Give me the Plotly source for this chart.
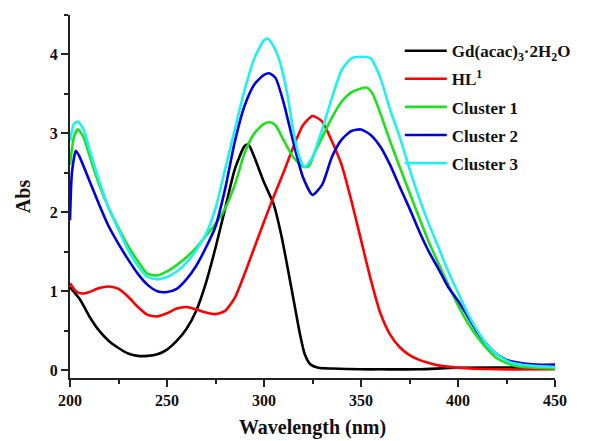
import plotly.graph_objects as go

# ---- data ----
gd_x = [200, 205, 210, 215, 220, 225, 230, 235, 240, 245, 250, 255, 260, 265, 270, 275, 280, 285, 290, 292,
        295, 300, 305, 309, 312, 316, 318.5, 321, 324, 328, 335, 350, 360, 380, 400, 450]
gd_y = [1.05, 0.90, 0.68, 0.50, 0.37, 0.28, 0.21, 0.18, 0.18, 0.20, 0.26, 0.37, 0.52, 0.75, 1.10, 1.55, 2.05, 2.55, 2.84, 2.86,
        2.70, 2.38, 2.10, 1.70, 1.32, 0.79, 0.46, 0.20, 0.07, 0.03, 0.02, 0.01, 0.01, 0.01, 0.03, 0.03]

hl_x = [200, 203, 206, 210, 215, 220, 225, 230, 235, 240, 245, 250, 255, 260, 265, 270, 275, 280, 285, 290,
        295, 300, 305, 310, 315, 320, 325, 330, 335, 340, 345, 350, 355, 360, 365, 370, 375, 380, 385, 390,
        400, 420, 450]
hl_y = [1.10, 1.00, 0.97, 0.99, 1.04, 1.06, 1.03, 0.93, 0.80, 0.70, 0.68, 0.72, 0.78, 0.80, 0.77, 0.73, 0.71, 0.75, 0.92, 1.22,
        1.55, 1.88, 2.20, 2.50, 2.82, 3.10, 3.22, 3.15, 2.90, 2.60, 2.15, 1.65, 1.15, 0.72, 0.45, 0.29, 0.19, 0.13, 0.09, 0.06,
        0.03, 0.01, 0.01]

c1_x = [200, 202, 204, 207, 210, 215, 220, 225, 230, 235, 240, 245, 250, 255, 260, 265, 270, 275, 280, 285,
        290, 295, 300, 303, 306, 310, 315, 320, 323, 326, 330, 335, 340, 345, 350, 353, 356, 360, 365, 370,
        375, 380, 385, 390, 395, 400, 405, 410, 415, 420, 425, 430, 440, 450]
c1_y = [2.60, 2.95, 3.05, 2.95, 2.72, 2.35, 2.05, 1.80, 1.57, 1.38, 1.22, 1.20, 1.25, 1.33, 1.43, 1.55, 1.70, 1.85, 2.05, 2.35,
        2.75, 3.00, 3.12, 3.14, 3.10, 2.92, 2.70, 2.58, 2.58, 2.75, 2.95, 3.20, 3.40, 3.52, 3.57, 3.58, 3.50, 3.25, 2.90, 2.57,
        2.25, 1.93, 1.62, 1.35, 1.08, 0.82, 0.60, 0.42, 0.27, 0.15, 0.09, 0.05, 0.03, 0.02]

c2_x = [200, 201, 203, 205, 210, 215, 220, 225, 230, 235, 240, 245, 250, 255, 260, 265, 270, 275, 280, 285,
        290, 295, 300, 303, 306, 310, 315, 320, 325, 330, 335, 340, 345, 350, 355, 360, 365, 370, 375, 380,
        385, 390, 395, 400, 405, 410, 415, 420, 425, 430, 440, 450]
c2_y = [1.90, 2.50, 2.78, 2.70, 2.40, 2.10, 1.82, 1.60, 1.40, 1.22, 1.08, 1.00, 0.99, 1.03, 1.15, 1.32, 1.55, 1.82, 2.30, 2.90,
        3.35, 3.62, 3.74, 3.76, 3.70, 3.40, 2.90, 2.45, 2.22, 2.35, 2.70, 2.92, 3.03, 3.05, 2.98, 2.83, 2.60, 2.32, 2.05, 1.76,
        1.50, 1.28, 1.05, 0.88, 0.68, 0.48, 0.32, 0.20, 0.13, 0.10, 0.07, 0.07]

c3_x = [200, 202, 204, 207, 210, 215, 220, 225, 230, 235, 240, 245, 250, 255, 260, 265, 270, 275, 280, 285,
        290, 295, 300, 302, 305, 308, 312, 315, 318, 321, 325, 330, 335, 340, 345, 350, 355, 360, 365, 370,
        375, 380, 385, 390, 395, 400, 405, 410, 415, 420, 425, 430, 440, 450]
c3_y = [2.90, 3.12, 3.15, 3.05, 2.80, 2.40, 2.05, 1.78, 1.52, 1.32, 1.18, 1.15, 1.18, 1.25, 1.36, 1.52, 1.72, 2.05, 2.55, 3.05,
        3.55, 3.95, 4.18, 4.20, 4.10, 3.92, 3.50, 3.05, 2.72, 2.57, 2.70, 3.05, 3.45, 3.80, 3.95, 3.97, 3.95, 3.70, 3.30, 2.95,
        2.55, 2.18, 1.85, 1.55, 1.25, 0.98, 0.72, 0.50, 0.32, 0.20, 0.12, 0.08, 0.05, 0.04]

series = [
    ("Gd(acac)<sub>3</sub>·2H<sub>2</sub>O", gd_x, gd_y, "#000000"),
    ("HL<sup>1</sup>", hl_x, hl_y, "#FF0000"),
    ("Cluster 1", c1_x, c1_y, "#1EE01E"),
    ("Cluster 2", c2_x, c2_y, "#0000E0"),
    ("Cluster 3", c3_x, c3_y, "#1FF0F0"),
]

font_family = "Liberation Serif"

fig = go.Figure()
for i, (name, xs, ys, col) in enumerate(series):
    fig.add_trace(go.Scatter(
        x=xs, y=ys, name=name, mode="lines",
        line=dict(color=col, width=2.6, shape="spline", smoothing=0.6),
        legendgroup=f"g{i}",
    ))

axis_common = dict(
    showline=True, linewidth=2, linecolor="#222222",
    ticks="outside", ticklen=7, tickwidth=2, tickcolor="#222222",
    showgrid=False, zeroline=False, mirror=False, automargin=False,
    tickfont=dict(family=font_family, size=16, color="#111111", weight="bold"),
)

fig.update_xaxes(
    range=[200, 450], dtick=50, tick0=200,
    minor=dict(dtick=25, ticklen=4, tickwidth=1.5, tickcolor="#222222", ticks="outside"),
    title=dict(text="Wavelength (nm)", font=dict(family=font_family, size=20, color="#111111", weight="bold"), standoff=12),
    **axis_common,
)
fig.update_yaxes(
    range=[-0.1, 4.5], dtick=1, tick0=0,
    minor=dict(dtick=0.5, ticklen=4, tickwidth=1.5, tickcolor="#222222", ticks="outside"),
    title=dict(text="Abs", font=dict(family=font_family, size=20, color="#111111", weight="bold"), standoff=14),
    **axis_common,
)

fig.update_layout(
    width=589, height=441,
    margin=dict(l=70, r=34, t=15, b=63),
    paper_bgcolor="white", plot_bgcolor="white",
    showlegend=True,
    legend=dict(
        x=0.68, y=0.95, xanchor="left", yanchor="top",
        font=dict(family=font_family, size=17, color="#111111", weight="bold"),
        bgcolor="rgba(0,0,0,0)", tracegroupgap=3, itemwidth=42,
    ),
)

fig.write_html("out.html")
